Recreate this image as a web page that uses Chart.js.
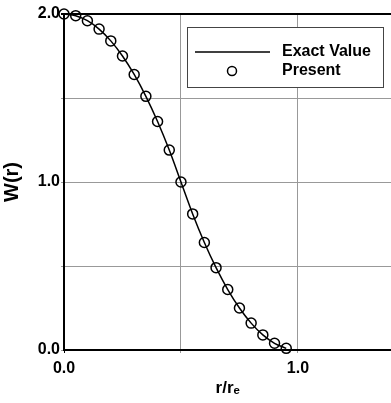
<!DOCTYPE html>
<html>
<head>
<meta charset="utf-8">
<script src="https://cdn.jsdelivr.net/npm/chart.js@4/dist/chart.umd.min.js"></script>
<style>
  html, body { margin: 0; padding: 0; background: #fff; overflow: hidden; }
  #wrap { width: 398px; height: 403px; }
</style>
</head>
<body>
<div id="wrap"><canvas id="c" width="398" height="403"></canvas></div>
<script>
// ---- data ----
const rValues = [0.00, 0.05, 0.10, 0.15, 0.20, 0.25, 0.30, 0.35, 0.40, 0.45,
                 0.50, 0.55, 0.60, 0.65, 0.70, 0.75, 0.80, 0.85, 0.90, 0.95];
const presentValues = [2.00, 1.99, 1.96, 1.91, 1.84, 1.75, 1.64, 1.51, 1.36, 1.19,
                       1.00, 0.81, 0.64, 0.49, 0.36, 0.25, 0.16, 0.09, 0.04, 0.01];
const exactValues   = [2.00, 1.99, 1.96, 1.91, 1.84, 1.75, 1.64, 1.51, 1.36, 1.19,
                       1.00, 0.81, 0.64, 0.49, 0.36, 0.25, 0.16, 0.09, 0.04, 0.01];
const xGridTicks = [0.0, 0.5, 1.0];
const yGridTicks = [0.0, 0.5, 1.0, 1.5, 2.0];
const xLabelTicks = [0.0, 1.0];
const yLabelTicks = [0.0, 1.0, 2.0];
const seriesNames = ['Exact Value', 'Present'];
const xTitle = 'r/r\u2091';
const yTitle = 'W(r)';

const FONT = '"Liberation Sans", Arial, sans-serif';

const legendPlugin = {
  id: 'boxLegend',
  afterDraw(chart) {
    const ctx = chart.ctx;
    const ds = chart.data.datasets;
    const x0 = 187, y0 = 27, w = 196, h = 60;
    ctx.save();
    ctx.fillStyle = '#fff';
    ctx.fillRect(x0, y0, w, h);
    ctx.strokeStyle = '#444';
    ctx.lineWidth = 1;
    ctx.strokeRect(x0 + 0.5, y0 + 0.5, w, h);
    // line sample
    ctx.strokeStyle = '#000';
    ctx.lineWidth = 1.5;
    ctx.beginPath();
    ctx.moveTo(195, 52);
    ctx.lineTo(270, 52);
    ctx.stroke();
    // circle sample
    ctx.beginPath();
    ctx.arc(232, 71, 4.5, 0, Math.PI * 2);
    ctx.stroke();
    ctx.fillStyle = '#000';
    ctx.font = 'bold 16px ' + FONT;
    ctx.textBaseline = 'middle';
    ctx.textAlign = 'left';
    ctx.fillText(ds[0].label, 282, 52);
    ctx.fillText(ds[1].label, 282, 71);
    ctx.restore();
  }
};

new Chart(document.getElementById('c'), {
  type: 'line',
  data: {
    datasets: [
      {
        label: seriesNames[0],
        data: rValues.map((r, i) => ({ x: r, y: exactValues[i] })),
        borderColor: '#000',
        borderWidth: 1.5,
        pointRadius: 0,
        cubicInterpolationMode: 'monotone',
        fill: false,
        clip: false
      },
      {
        label: seriesNames[1],
        data: rValues.map((r, i) => ({ x: r, y: presentValues[i] })),
        showLine: false,
        borderColor: '#000',
        backgroundColor: 'rgba(0,0,0,0)',
        pointRadius: 5,
        pointBorderWidth: 1.5,
        pointBorderColor: '#000',
        pointBackgroundColor: 'rgba(0,0,0,0)',
        clip: false
      }
    ]
  },
  options: {
    responsive: false,
    animation: false,
    events: [],
    layout: { padding: { top: 14, right: 4, left: 0, bottom: 0 } },
    plugins: { legend: { display: false }, tooltip: { enabled: false } },
    scales: {
      x: {
        type: 'linear',
        min: 0,
        max: 1.4,
        afterBuildTicks(scale) { scale.ticks = xGridTicks.map(v => ({ value: v })); },
        afterFit(scale) { scale.height = 53; },
        border: { color: '#000', width: 2 },
        grid: {
          color: (c) => (c.tick && c.tick.value === 0 ? '#000' : '#999'),
          lineWidth: 1,
          tickLength: 3,
          drawTicks: true
        },
        ticks: {
          color: '#000',
          font: { family: FONT, size: 16, weight: 'bold' },
          padding: 6,
          maxRotation: 0,
          autoSkip: false,
          callback: (v) => (xLabelTicks.includes(v) ? v.toFixed(1) : '')
        },
        title: {
          display: true,
          text: xTitle,
          color: '#000',
          font: { family: FONT, size: 17, weight: 'bold' },
          padding: { top: 0, bottom: 4 }
        }
      },
      y: {
        type: 'linear',
        min: 0,
        max: 2,
        afterBuildTicks(scale) { scale.ticks = yGridTicks.map(v => ({ value: v })); },
        afterFit(scale) { scale.width = 64; },
        border: { color: '#000', width: 2 },
        grid: {
          color: (c) => (c.tick && c.tick.value === 2 ? '#000' : '#999'),
          lineWidth: (c) => (c.tick && c.tick.value === 2 ? 2 : 1),
          tickLength: 3
        },
        ticks: {
          color: '#000',
          font: { family: FONT, size: 16, weight: 'bold' },
          padding: 1,
          autoSkip: false,
          callback: (v) => (yLabelTicks.includes(v) ? v.toFixed(1) : '')
        },
        title: {
          display: true,
          text: yTitle,
          color: '#000',
          font: { family: FONT, size: 20, weight: 'bold' },
          padding: { top: 0, bottom: 0 }
        }
      }
    }
  },
  plugins: [legendPlugin]
});
</script>
</body>
</html>
